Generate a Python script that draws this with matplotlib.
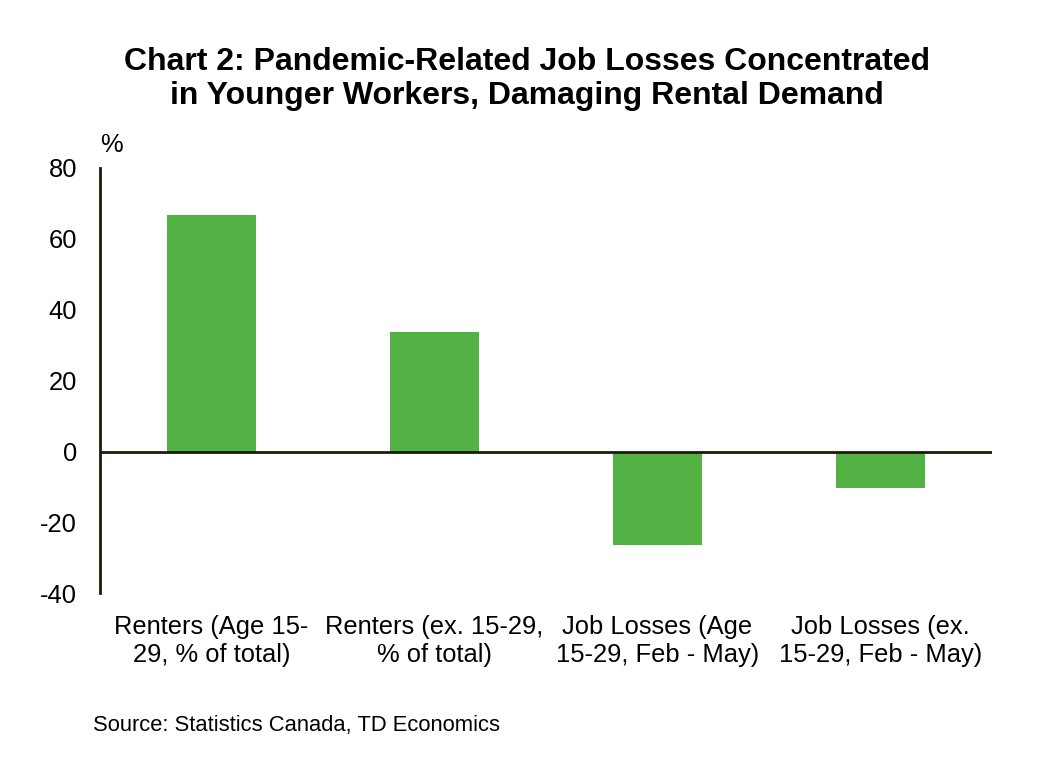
import numpy as np
import matplotlib.pyplot as plt

plt.rcParams['font.family'] = ['Liberation Sans', 'DejaVu Sans']
plt.rcParams['axes.unicode_minus'] = False

categories = ['Renters (Age 15-\n29, % of total)',
              'Renters (ex. 15-29,\n% of total)',
              'Job Losses (Age\n15-29, Feb - May)',
              'Job Losses (ex.\n15-29, Feb - May)']
values = [66.6, 33.6, -26.4, -10.2]

fig = plt.figure(figsize=(10.64, 7.84), dpi=100)
ax = fig.add_axes([0.094, 0.243, 0.838, 0.543])

x = np.arange(len(categories))
ax.bar(x, values, width=0.4, color='#52B243', zorder=2)

ax.set_xlim(-0.5, 3.5)
ax.set_ylim(-40, 80)
ax.set_yticks([-40, -20, 0, 20, 40, 60, 80])
ax.set_xticks(x)
ax.set_xticklabels(categories, fontsize=18.4, linespacing=1.22)
ax.tick_params(axis='y', labelsize=18.4, length=0, pad=16.5)
ax.tick_params(axis='x', length=0, pad=15.5)

for s in ['top', 'right', 'bottom']:
    ax.spines[s].set_visible(False)
ax.spines['left'].set_linewidth(2)
ax.spines['left'].set_color('#1c1c0c')
ax.axhline(0, color='#1c1c0c', linewidth=2, zorder=3)

fig.text(0.495, 0.899, 'Chart 2: Pandemic-Related Job Losses Concentrated\nin Younger Workers, Damaging Rental Demand',
         ha='center', va='center', fontsize=23, fontweight='bold', linespacing=1.2)
fig.text(0.094, 0.8, '%', fontsize=18.4, ha='left', va='bottom')
fig.text(0.087, 0.075, 'Source: Statistics Canada, TD Economics', fontsize=15.8, ha='left', va='center')

fig.savefig('out.png', dpi=100)
